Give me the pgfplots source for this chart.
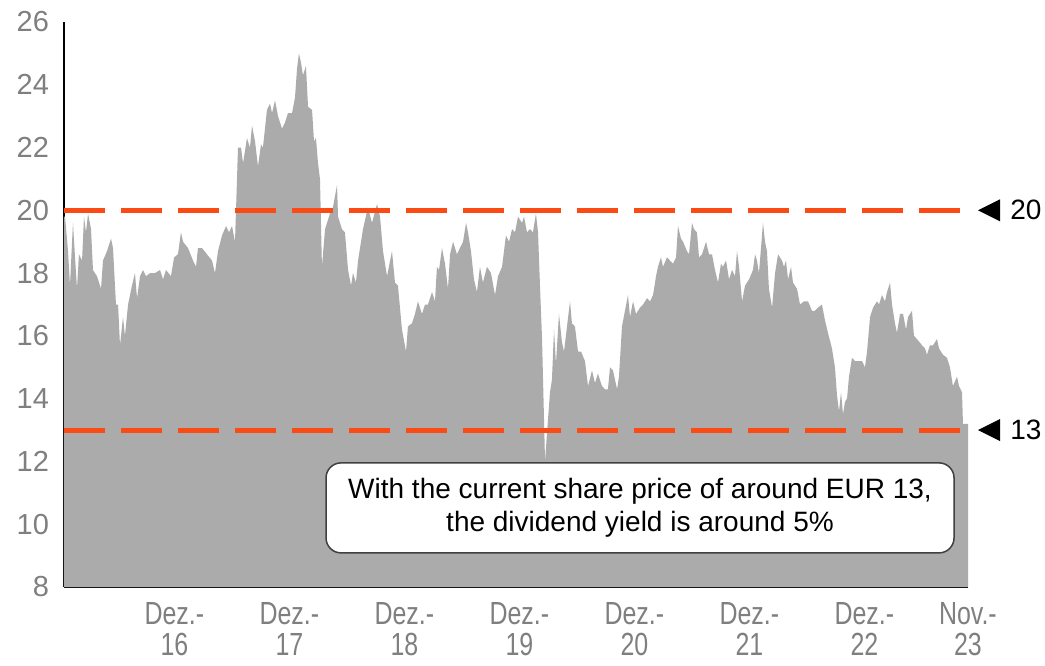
\documentclass[border=0pt]{standalone}
\usepackage{fontspec}
\setmainfont{Liberation Sans}
\usepackage{pgfplots}
\pgfplotsset{compat=1.18}
\usepackage{pgfplotstable}
\definecolor{areagray}{HTML}{ABABAB}
\definecolor{dashorange}{HTML}{FA4B14}
\definecolor{ticklab}{HTML}{7F7F7F}
\pgfplotstableread{
x v
0.000 19.8
0.009 19.8
0.035 18.7
0.052 17.6
0.078 19.6
0.096 18.5
0.113 17.5
0.130 18.6
0.157 18.4
0.174 19.8
0.191 19.3
0.209 19.9
0.235 19.4
0.252 18.1
0.287 17.9
0.322 17.5
0.339 18.4
0.374 18.7
0.409 19.1
0.426 18.8
0.452 17.0
0.470 17.0
0.487 15.7
0.513 16.6
0.530 16.0
0.557 17.0
0.591 17.6
0.617 18.0
0.635 17.2
0.661 17.9
0.687 18.1
0.713 17.9
0.748 18.0
0.791 18.0
0.835 18.1
0.861 17.8
0.887 18.1
0.930 17.9
0.957 18.5
0.991 18.6
1.017 19.3
1.035 19.0
1.078 18.8
1.122 18.4
1.148 18.2
1.165 18.8
1.200 18.8
1.243 18.6
1.287 18.4
1.313 18.0
1.339 18.7
1.374 19.2
1.409 19.5
1.435 19.3
1.461 19.5
1.487 19.0
1.513 22.0
1.539 22.0
1.557 21.5
1.591 22.3
1.617 22.0
1.635 22.7
1.661 22.2
1.687 21.4
1.713 22.1
1.730 22.0
1.765 23.2
1.791 23.4
1.809 23.1
1.835 23.5
1.861 23.0
1.896 22.6
1.922 22.8
1.948 23.1
1.983 23.1
2.009 23.6
2.026 24.5
2.043 25.0
2.061 24.7
2.078 24.3
2.104 24.6
2.122 23.3
2.157 23.2
2.174 22.2
2.191 22.3
2.209 21.5
2.226 21.0
2.243 18.2
2.270 19.4
2.313 19.9
2.339 20.1
2.374 20.8
2.383 19.8
2.417 19.4
2.443 19.3
2.470 18.1
2.496 17.6
2.513 18.0
2.539 17.7
2.557 18.4
2.600 19.4
2.643 20.1
2.678 19.6
2.722 20.2
2.748 19.8
2.774 18.7
2.809 17.9
2.852 18.7
2.878 17.7
2.904 17.6
2.939 16.2
2.974 15.5
2.991 16.3
3.026 16.4
3.052 16.7
3.078 17.1
3.113 16.7
3.139 17.0
3.165 17.0
3.200 17.4
3.226 17.1
3.243 18.2
3.261 18.1
3.287 18.8
3.313 18.3
3.339 17.5
3.357 18.6
3.383 19.0
3.417 18.6
3.443 18.8
3.470 19.0
3.496 19.6
3.513 19.3
3.539 18.7
3.565 17.8
3.591 17.4
3.617 18.2
3.643 17.7
3.678 18.2
3.713 18.0
3.748 17.3
3.774 17.9
3.809 18.2
3.843 19.2
3.870 19.0
3.896 19.4
3.922 19.3
3.948 19.8
3.983 19.6
4.000 19.8
4.026 19.3
4.052 19.4
4.078 19.3
4.104 19.9
4.122 19.3
4.139 17.6
4.157 15.9
4.183 12.0
4.200 12.9
4.226 14.2
4.243 14.6
4.261 16.2
4.278 15.1
4.304 16.7
4.330 15.8
4.348 15.5
4.374 16.3
4.400 17.1
4.417 16.4
4.443 16.3
4.470 15.5
4.496 15.5
4.530 15.2
4.557 14.4
4.591 14.9
4.617 14.5
4.643 14.8
4.678 14.4
4.704 14.3
4.730 14.3
4.748 15.0
4.774 14.9
4.809 14.3
4.826 14.7
4.852 16.3
4.878 16.8
4.904 17.3
4.922 16.6
4.948 17.1
4.974 16.7
5.009 16.9
5.035 17.0
5.070 17.2
5.096 17.1
5.122 17.3
5.148 17.9
5.165 18.2
5.191 18.5
5.209 18.2
5.243 18.5
5.270 18.4
5.296 18.3
5.322 18.5
5.339 19.5
5.365 19.1
5.383 19.0
5.417 18.7
5.435 18.6
5.461 19.6
5.478 19.4
5.504 19.3
5.522 18.5
5.548 18.6
5.583 19.0
5.609 18.6
5.635 18.6
5.661 18.1
5.687 17.7
5.713 18.3
5.730 18.2
5.757 18.4
5.783 17.8
5.809 18.1
5.835 17.9
5.852 18.7
5.870 18.2
5.896 17.1
5.922 17.6
5.957 17.8
5.991 18.1
6.009 18.6
6.026 18.4
6.043 18.0
6.061 18.8
6.078 19.6
6.096 19.0
6.113 18.7
6.130 17.5
6.157 16.9
6.183 18.0
6.209 18.6
6.243 18.4
6.261 18.2
6.278 18.4
6.296 17.8
6.322 18.2
6.339 17.7
6.374 17.5
6.400 17.0
6.435 17.1
6.470 17.1
6.504 16.8
6.530 16.8
6.557 16.9
6.591 17.0
6.617 16.5
6.643 16.1
6.678 15.6
6.704 15.0
6.722 14.1
6.739 13.6
6.757 14.2
6.774 13.5
6.791 13.9
6.809 14.0
6.826 14.7
6.852 15.3
6.878 15.2
6.904 15.2
6.939 15.2
6.965 15.0
6.983 15.5
7.009 16.6
7.035 16.9
7.070 17.1
7.087 17.0
7.113 17.3
7.139 17.1
7.157 17.4
7.183 17.7
7.200 17.0
7.226 16.4
7.243 16.1
7.270 16.7
7.296 16.7
7.322 16.2
7.339 16.6
7.374 16.8
7.391 16.0
7.417 15.9
7.461 15.7
7.487 15.6
7.504 15.4
7.530 15.7
7.557 15.7
7.591 15.9
7.609 15.6
7.643 15.4
7.678 15.3
7.704 15.0
7.730 14.4
7.765 14.7
7.783 14.4
7.809 14.2
7.817 13.2
7.843 13.2
7.861 13.2
}\pricedata
\begin{document}
\begin{tikzpicture}
\useasboundingbox (-32pt,-39pt) rectangle (490.5pt,293.5pt);
\begin{axis}[
  at={(0,0)}, anchor=south west,
  scale only axis, width=452pt, height=282.5pt,
  xmin=0, xmax=7.861, ymin=8, ymax=26,
  axis x line*=bottom, axis y line*=left,
  axis line style={-, black, line width=1pt},
  major tick length=0pt,
  ytick={8,10,...,26},
  xtick={0.96,1.96,2.96,3.96,4.96,5.96,6.96,7.86},
  xticklabels={{Dez.-\\16},{Dez.-\\17},{Dez.-\\18},{Dez.-\\19},{Dez.-\\20},{Dez.-\\21},{Dez.-\\22},{Nov.-\\23}},
  /pgf/number format/assume math mode=true,
  yticklabel style={text=ticklab, font=\fontsize{14.5}{17}\selectfont, xshift=-4pt},
  xticklabel style={text=ticklab, align=center, font=\fontsize{16}{15.5}\selectfont, xscale=0.78, yshift=-4pt},
]
\addplot[draw=none, fill=areagray] table[x=x, y=v] {\pricedata} \closedcycle;
\addplot[dashorange, line width=2.5pt, dash pattern=on 20.5pt off 8pt] coordinates {(0,20) (7.861,20)};
\addplot[dashorange, line width=2.5pt, dash pattern=on 20.5pt off 8pt] coordinates {(0,13) (7.861,13)};
\node[draw=black!75, line width=0.75pt, fill=white, rounded corners=7.5pt,
      minimum width=314pt, minimum height=45pt, align=center,
      font=\fontsize{14}{16.5}\selectfont] at (axis cs:5.009,10.52)
      {With the current share price of around EUR 13,\\the dividend yield is around 5\%};
\coordinate (r20) at (axis cs:7.861,20);
\coordinate (r13) at (axis cs:7.861,13);
\end{axis}
\fill ([xshift=5pt]r20) -- ([xshift=16pt,yshift=5.5pt]r20) -- ([xshift=16pt,yshift=-5.5pt]r20) -- cycle;
\fill ([xshift=5pt]r13) -- ([xshift=16pt,yshift=5.5pt]r13) -- ([xshift=16pt,yshift=-5.5pt]r13) -- cycle;
\node[anchor=west, font=\fontsize{14}{16}\selectfont, inner sep=0pt] at ([xshift=21pt]r20) {20};
\node[anchor=west, font=\fontsize{14}{16}\selectfont, inner sep=0pt] at ([xshift=21pt]r13) {13};
\end{tikzpicture}
\end{document}
